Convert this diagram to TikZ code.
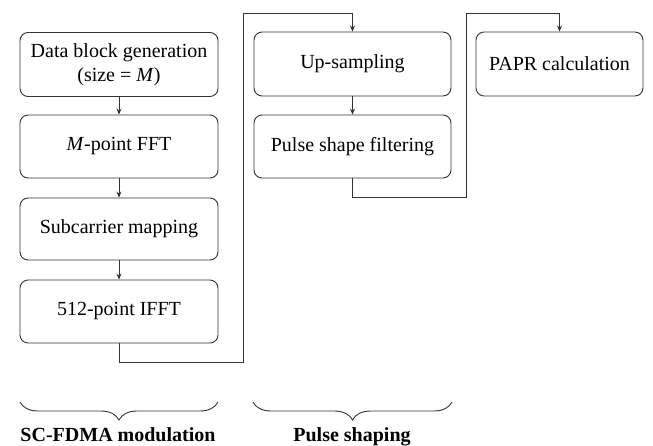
\documentclass[tikz,border=0pt]{standalone}
\usepackage{fontspec}
\setmainfont{Liberation Serif}
\usetikzlibrary{arrows.meta,decorations.pathreplacing}
\begin{document}
\begin{tikzpicture}[x=1pt,y=-1pt,
  blk/.style={draw=black!80, line width=0.9pt, rounded corners=8pt, align=center,
    font=\fontsize{20}{24}\selectfont, inner sep=0pt},
  link/.style={draw=black!80, line width=0.9pt},
  arr/.style={link, -{Stealth[length=6pt,width=5pt]}},
  brc/.style={draw=black!80, line width=0.9pt, decorate,
    decoration={brace, mirror, amplitude=18pt}},
  lbl/.style={font=\fontsize{20}{24}\selectfont\bfseries, inner sep=0pt, anchor=base}]
\useasboundingbox (0,0) rectangle (653,445);
% SC-FDMA modulation chain
\node[blk, minimum width=198pt, minimum height=64pt] (b1) at (119,64.5) {Data block generation\\(size = \textit{M})};
\node[blk, minimum width=198pt, minimum height=63pt] (b2) at (119,146.5) {\textit{M}-point FFT};
\node[blk, minimum width=198pt, minimum height=62pt] (b3) at (119,229) {Subcarrier mapping};
\node[blk, minimum width=198pt, minimum height=63pt] (b4) at (119,311.5) {512-point IFFT};
% pulse shaping chain
\node[blk, minimum width=197pt, minimum height=64pt] (b5) at (352.5,64) {Up-sampling};
\node[blk, minimum width=197pt, minimum height=63pt] (b6) at (352.5,146.5) {Pulse shape filtering};
% PAPR
\node[blk, minimum width=167pt, minimum height=64pt] (b7) at (559.5,64) {PAPR calculation};
% vertical links
\draw[arr] (b1) -- (b2);
\draw[arr] (b2) -- (b3);
\draw[arr] (b3) -- (b4);
\draw[arr] (b5) -- (b6);
% routed links between chains
\coordinate (j1) at (243,362);
\coordinate (j2) at (243,13);
\coordinate (j3) at (466,197);
\coordinate (j4) at (466,13);
\draw[arr] (b4.south) |- (j1) -- (j2) -| (b5.north);
\draw[arr] (b6.south) |- (j3) -- (j4) -| (b7.north);
% braces and group labels
\coordinate (p1) at (20,402);
\coordinate (p2) at (218,402);
\coordinate (p3) at (253,402);
\coordinate (p4) at (452,402);
\draw[brc] (p1) -- (p2);
\draw[brc] (p3) -- (p4);
\node[lbl] (l1) at (118,441) {SC-FDMA modulation};
\node[lbl] (l2) at (352,441) {Pulse shaping};
\end{tikzpicture}
\end{document}
